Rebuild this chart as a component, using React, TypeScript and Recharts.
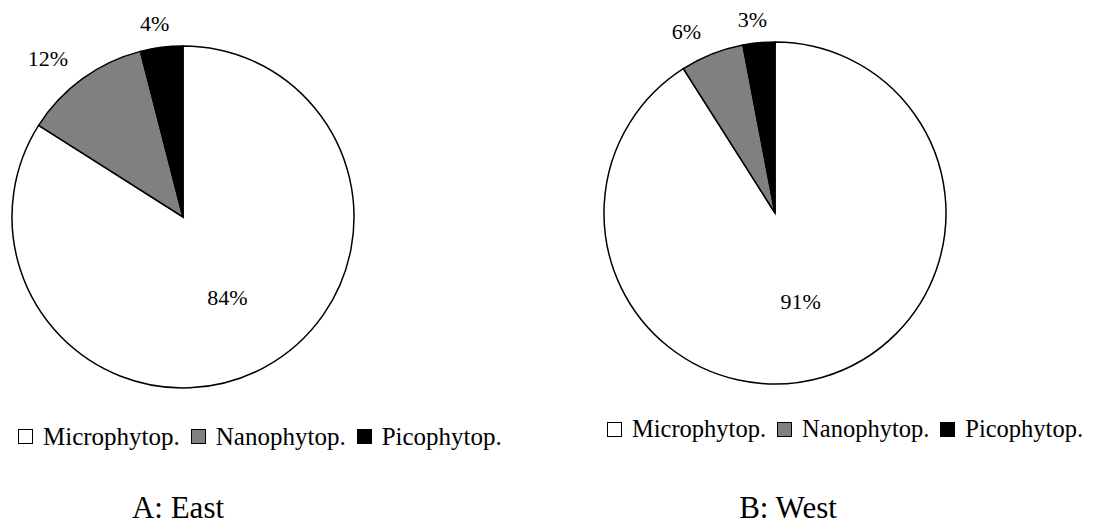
import { PieChart, Pie, Cell, Legend } from 'recharts';

const groups = ['Microphytop.', 'Nanophytop.', 'Picophytop.'];
const eastValues = [84, 12, 4];
const westValues = [91, 6, 3];
const colors = ['#ffffff', '#808080', '#000000'];

const FONT = '"Liberation Serif", "Times New Roman", serif';
const RADIAN = Math.PI / 180;

const toRows = (values: number[]) => groups.map((name, i) => ({ name, value: values[i] }));

const renderLabel = (props: any) => {
  const { cx, cy, midAngle, outerRadius, percent, value } = props;
  const dx = Math.cos(-midAngle * RADIAN);
  const dy = Math.sin(-midAngle * RADIAN);
  if (percent > 0.5) {
    // the big slice keeps its label inside
    const r = outerRadius * 0.54;
    return (
      <text x={cx + r * dx} y={cy + r * dy} textAnchor="middle" dominantBaseline="central" fill="#000" fontFamily={FONT} fontSize={22}>
        {value}%
      </text>
    );
  }
  // small slices: label box sits just outside the rim, like Excel's best fit
  const r = outerRadius + 16;
  const px = cx + r * dx - 5;
  const py = cy + r * dy;
  const anchor = dx < -0.3 ? 'end' : dx > 0.3 ? 'start' : 'middle';
  const y = dy < 0 ? py : py + 18;
  return (
    <text x={px} y={y} textAnchor={anchor} fill="#000" fontFamily={FONT} fontSize={22}>
      {value}%
    </text>
  );
};

const LegendBox = ({ fontSize }: { fontSize: number }) => (
  <div style={{ display: 'flex', alignItems: 'center', fontFamily: FONT, fontSize, lineHeight: 1, color: '#000', whiteSpace: 'nowrap' }}>
    {groups.map((g, i) => (
      <span key={g} style={{ display: 'inline-flex', alignItems: 'center', marginRight: i < groups.length - 1 ? 11 : 0 }}>
        <span
          style={{
            display: 'inline-block',
            width: 15,
            height: 15,
            background: colors[i],
            border: '1px solid #000',
            boxSizing: 'border-box',
            marginRight: 10,
          }}
        />
        {g}
      </span>
    ))}
  </div>
);

interface PanelProps {
  values: number[];
  left: number;
  cx: number;
  cy: number;
  legendLeft: number;
  legendTop: number;
  legendSize: number;
  title: string;
  titleX: number;
}

const Panel = ({ values, left, cx, cy, legendLeft, legendTop, legendSize, title, titleX }: PanelProps) => {
  const rows = toRows(values);
  return (
    <div style={{ position: 'absolute', left, top: 0, width: 552, height: 524 }}>
      <PieChart width={552} height={524} margin={{ top: 0, right: 0, bottom: 0, left: 0 }}>
        <Pie
          data={rows}
          dataKey="value"
          nameKey="name"
          cx={cx}
          cy={cy}
          outerRadius={171}
          startAngle={90}
          endAngle={-270}
          stroke="#000"
          strokeWidth={1.5}
          label={renderLabel}
          labelLine={false}
          isAnimationActive={false}
        >
          {rows.map((r, i) => (
            <Cell key={r.name} fill={colors[i]} />
          ))}
        </Pie>
        <Legend
          content={() => <LegendBox fontSize={legendSize} />}
          wrapperStyle={{ position: 'absolute', top: legendTop, left: legendLeft, width: 'auto' }}
        />
      </PieChart>
      <div
        style={{
          position: 'absolute',
          top: 492,
          left: titleX - 150,
          width: 300,
          textAlign: 'center',
          fontFamily: FONT,
          fontSize: 31,
          lineHeight: 1,
          color: '#000',
        }}
      >
        {title}
      </div>
    </div>
  );
};

export default function App() {
  return (
    <div style={{ position: 'absolute', left: 0, top: 0, width: 1105, height: 524, background: '#fff' }}>
      <Panel
        values={eastValues}
        left={0}
        cx={183}
        cy={217}
        legendLeft={18}
        legendTop={424}
        legendSize={25}
        title="A: East"
        titleX={178}
      />
      <Panel
        values={westValues}
        left={553}
        cx={222}
        cy={213}
        legendLeft={54}
        legendTop={417}
        legendSize={24.5}
        title="B: West"
        titleX={235}
      />
    </div>
  );
}
